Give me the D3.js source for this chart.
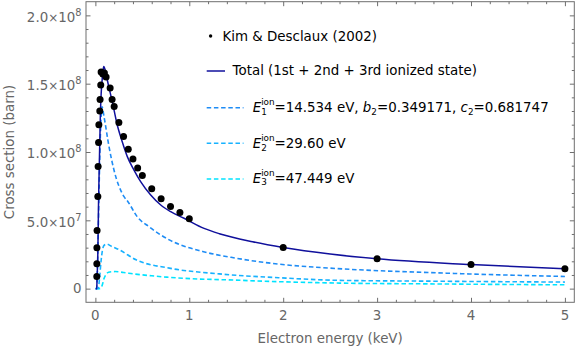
<!DOCTYPE html>
<html><head><meta charset="utf-8">
<script src="https://cdn.jsdelivr.net/npm/d3@7"></script>
<style>body{margin:0;background:#fff} svg{display:block;font-family:"DejaVu Sans",sans-serif} text{white-space:pre}</style>
</head><body><svg id="c" width="576" height="347"></svg>
<script>
// ---------- data ----------
const xTicks = [0, 1, 2, 3, 4, 5];
const xTickLabels = ["0", "1", "2", "3", "4", "5"];
const yTicks = [0, 5e7, 1e8, 1.5e8, 2e8];
const yTickMant = ["0", "5.0", "1.0", "1.5", "2.0"];
const yTickExp = ["", "7", "8", "8", "8"];

// Kim & Desclaux (2002) points: energy (keV), cross section (barn)
const dotE = [0.015,0.0155,0.016,0.018,0.026,0.029,0.034,0.037,0.047,0.05,0.057,0.061,0.079,0.096,0.114,0.157,0.178,0.2,0.25,0.3,0.35,0.4,0.45,0.5,0.6,0.7,0.8,0.9,1,2,3,4,5];
const dotS = [8.9e6,18.2e6,30e6,42.5e6,67.4e6,89.4e6,107e6,120e6,130e6,138.4e6,149e6,158.5e6,157e6,157.8e6,154.8e6,146.8e6,138.4e6,133.3e6,121.6e6,111.3e6,102.1e6,94.8e6,88.2e6,82.8e6,73.1e6,65.7e6,60.1e6,55.7e6,51.1e6,30.1e6,21.8e6,17.6e6,14.5e6];

// Total curve
const totE = [0.003,0.0145,0.018,0.0255,0.03,0.034,0.0425,0.053,0.061,0.071,0.08,0.089,0.1,0.115,0.127,0.18,0.233,0.286,0.34,0.411,0.482,0.589,0.696,0.802,0.944,1.157,1.32,1.674,2,2.5,3,4,5];
const totS = [0,0,8e6,24e6,45e6,65e6,93e6,127e6,142e6,152e6,159e6,162.6e6,161e6,157e6,152.7e6,136.8e6,119.8e6,107.5e6,96.6e6,86.8e6,78.3e6,68.5e6,61.2e6,56.3e6,51.5e6,44.1e6,40.2e6,34.3e6,30.1e6,25.3e6,21.8e6,17.6e6,14.5e6];

// 1st ionized state
const e1E = [0.003,0.0145,0.02,0.03,0.04,0.05,0.06,0.071,0.092,0.145,0.198,0.305,0.345,0.446,0.571,0.787,1.142,1.497,2.03,2.5,3.74,5];
const e1S = [0,0,10e6,40e6,75e6,105e6,124e6,133e6,125.8e6,103.9e6,86.8e6,67.3e6,63.8e6,52.6e6,45.3e6,35.7e6,27.2e6,22.3e6,17.4e6,15e6,11.3e6,8.9e6];

// 2nd ionized state
const e2E = [0.003,0.0296,0.045,0.06,0.075,0.09,0.121,0.17,0.255,0.433,0.787,1.32,2.03,2.56,3.5,5];
const e2S = [0,0,8e6,20e6,28e6,31.5e6,32.6e6,31e6,28.4e6,21.1e6,15e6,10.8e6,7.7e6,6.1e6,5.5e6,4.8e6];

// 3rd ionized state
const e3E = [0.003,0.0474,0.06,0.075,0.09,0.11,0.14,0.21,0.3,0.404,0.6,0.76,1.11,1.32,2,2.56,3.5,5];
const e3S = [0,0,0.5e6,3e6,7e6,10e6,12e6,12.5e6,11.8e6,10.8e6,9.4e6,8.4e6,7e6,6.6e6,5e6,4.1e6,3.5e6,2.8e6];

// ---------- layout ----------
const L = 86, R = 574.3, T = 1.7, B = 302.3;
const frameCol = "#6e6e6e", labelCol = "#666";
const cTot = "#10109c", c1 = "#1e8cf5", c2 = "#17b2ff", c3 = "#00e3ff";
const FS = 13.4;

const svg = d3.select("#c");
const x = d3.scaleLinear().domain([-0.1, 5.1]).range([L, R]);
const y = d3.scaleLinear().domain([-1e7, 2.1e8]).range([B, T]);

svg.append("defs").append("clipPath").attr("id", "clip")
  .append("rect").attr("x", L).attr("y", T).attr("width", R - L).attr("height", B - T);

const xMinor = d3.range(1, 26).map(i => i * 0.2).filter(v => Math.abs(v - Math.round(v)) > 1e-6);
const yMinor = d3.range(1, 21).map(i => i * 1e7).filter(v => v % 5e7 !== 0);

function ticks(axisFn, scale, vals, size, tr) {
  const g = svg.append("g").attr("transform", tr)
    .call(axisFn(scale).tickValues(vals).tickSize(size).tickSizeOuter(0).tickFormat(""));
  g.select(".domain").remove();
  g.selectAll("line").attr("stroke", frameCol).attr("stroke-width", 1);
  g.selectAll("text").remove();
}
ticks(d3.axisBottom, x, xTicks, -4.5, `translate(0,${B})`);
ticks(d3.axisBottom, x, xMinor, -2.5, `translate(0,${B})`);
ticks(d3.axisTop, x, xTicks, -4.5, `translate(0,${T})`);
ticks(d3.axisTop, x, xMinor, -2.5, `translate(0,${T})`);
ticks(d3.axisLeft, y, yTicks, -4.5, `translate(${L},0)`);
ticks(d3.axisLeft, y, yMinor, -2.5, `translate(${L},0)`);
ticks(d3.axisRight, y, yTicks, -4.5, `translate(${R},0)`);
ticks(d3.axisRight, y, yMinor, -2.5, `translate(${R},0)`);

svg.append("rect").attr("x", L).attr("y", T).attr("width", R - L).attr("height", B - T)
  .attr("fill", "none").attr("stroke", frameCol).attr("stroke-width", 1);

svg.append("g").selectAll("text").data(xTicks).join("text")
  .attr("x", d => x(d)).attr("y", B + 17.8).attr("text-anchor", "middle")
  .attr("font-size", FS).attr("fill", labelCol).text((d, i) => xTickLabels[i]);

const yl = svg.append("g").selectAll("text").data(yTicks).join("text")
  .attr("x", L - 4.5).attr("y", (d, i) => y(d) + (yTickExp[i] ? 6.2 : 4.8))
  .attr("text-anchor", "end").attr("font-size", FS).attr("fill", labelCol);
yl.each(function(d, i) {
  const t = d3.select(this);
  if (!yTickExp[i]) { t.text(yTickMant[i]); return; }
  t.append("tspan").text(yTickMant[i]);
  t.append("tspan").attr("font-size", 12).text("\u00d7");
  t.append("tspan").text("10");
  t.append("tspan").attr("font-size", 9.8).attr("dy", -6).text(yTickExp[i]);
});

svg.append("text").attr("x", (L + R) / 2).attr("y", 342.5).attr("text-anchor", "middle")
  .attr("font-size", FS).attr("fill", labelCol).text("Electron energy (keV)");
svg.append("text").attr("transform", `translate(13.5,${(T + B) / 2}) rotate(-90)`)
  .attr("text-anchor", "middle").attr("font-size", FS).attr("fill", labelCol).text("Cross section (barn)");

const line = d3.line().x(d => x(d[0])).y(d => y(d[1])).curve(d3.curveMonotoneX);
const plot = svg.append("g").attr("clip-path", "url(#clip)");
function curve(E, S, col, dash) {
  plot.append("path").datum(E.map((e, i) => [e, S[i]])).attr("d", line)
    .attr("fill", "none").attr("stroke", col).attr("stroke-width", dash ? 1.6 : 1.5)
    .attr("stroke-dasharray", dash ? "4.5,2.7" : null);
}
curve(e3E, e3S, c3, true);
curve(e2E, e2S, c2, true);
curve(e1E, e1S, c1, true);
curve(totE, totS, cTot, false);

plot.append("g").selectAll("circle").data(dotE.map((e, i) => [e, dotS[i]])).join("circle")
  .attr("cx", d => x(d[0])).attr("cy", d => y(d[1])).attr("r", 3.5).attr("fill", "#000");

// ---------- legend ----------
const lg = svg.append("g");
function rich(x0, base, pieces) {
  let cx = x0;
  pieces.forEach(p => {
    if (p.stack) {
      const a = lg.append("text").attr("x", cx).attr("y", base - 7).attr("font-size", 8.8).text(p.sup);
      const b = lg.append("text").attr("x", cx).attr("y", base + 2.8).attr("font-size", 8.8).text(p.sub);
      cx += Math.max(a.node().getComputedTextLength(), b.node().getComputedTextLength());
    } else {
      const t = lg.append("text").attr("x", cx).attr("y", base + (p.dy || 0))
        .attr("font-size", p.fs || FS).attr("font-style", p.it ? "italic" : null).text(p.t);
      cx += t.node().getComputedTextLength();
    }
  });
}
lg.append("circle").attr("cx", 210.6).attr("cy", 36).attr("r", 1.7).attr("fill", "#000");
rich(222.5, 40.7, [{t: "Kim & Desclaux (2002)"}]);

lg.append("line").attr("x1", 206.7).attr("x2", 225).attr("y1", 71).attr("y2", 71)
  .attr("stroke", cTot).attr("stroke-width", 1.5);
rich(232.6, 75.3, [{t: "Total (1st + 2nd + 3rd ionized state)"}]);

const legRows = [
  {col: c1, ly: 107.7, base: 112, sub: "1", rest: [{t: "=14.534 eV,\u00a0"}, {t: "b", it: true}, {t: "2", fs: 8.8, dy: 2.8}, {t: "=0.349171,\u00a0"}, {t: "c", it: true}, {t: "2", fs: 8.8, dy: 2.8}, {t: "=0.681747"}]},
  {col: c2, ly: 143.3, base: 148, sub: "2", rest: [{t: "=29.60 eV"}]},
  {col: c3, ly: 179, base: 182.5, sub: "3", rest: [{t: "=47.449 eV"}]}
];
legRows.forEach(r => {
  lg.append("line").attr("x1", 206.7).attr("x2", 243.5).attr("y1", r.ly).attr("y2", r.ly)
    .attr("stroke", r.col).attr("stroke-width", 1.6).attr("stroke-dasharray", "4.5,2.7");
  rich(252.7, r.base, [{t: "E", it: true}, {stack: true, sup: "ion", sub: r.sub}].concat(r.rest));
});
</script></body></html>
